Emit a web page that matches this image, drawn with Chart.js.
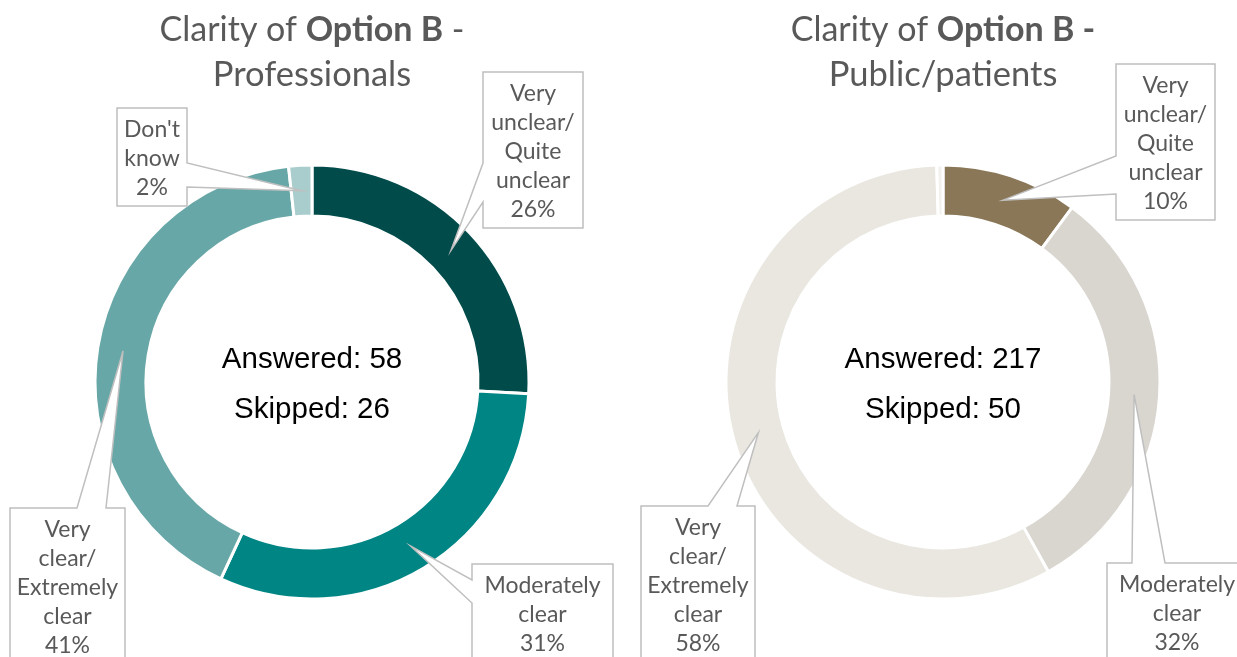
<!DOCTYPE html>
<html>
<head>
<meta charset="utf-8">
<script src="https://cdn.jsdelivr.net/npm/chart.js@4.4.0/dist/chart.umd.min.js"></script>
<style>
  html, body { margin: 0; padding: 0; background: #fff; overflow: hidden; }
  body { width: 1237px; height: 657px; position: relative; }
  canvas { position: absolute; top: 0; }
  #profChart { left: 0; }
  #publicChart { left: 631px; }
</style>
</head>
<body>
<canvas id="profChart" width="624" height="657"></canvas>
<canvas id="publicChart" width="624" height="657"></canvas>
<script>
/* global Chart */

// categories, clockwise from 12 o'clock
const categories = ['Very unclear/Quite unclear', 'Moderately clear', 'Very clear/Extremely clear', "Don't know"]
const categoryLines = [
  ['Very', 'unclear/', 'Quite', 'unclear'],
  ['Moderately', 'clear'],
  ['Very', 'clear/', 'Extremely', 'clear'],
  ["Don't", 'know']
]

// response counts
const profCounts = [15, 18, 24, 1]
const publicCounts = [22, 69, 125, 1]

const profAnswered = 58
const profSkipped = 26
const publicAnswered = 217
const publicSkipped = 50

const profColors = ['#014b4b', '#008585', '#68a7a7', '#a9cccc']
const publicColors = ['#8a7758', '#d9d5cf', '#eae7e1', '#f3f1ed']

const GREY = '#595959'
const LABEL_FONT = '23px Lato'
const LINE_H = 29

// callout boxes: offset of box corner from doughnut centre, width, and where the pointer leaves the box
const profCallouts = [
  { dx: 171, dy: -310, w: 100, side: 'left', b1: 91, b2: 130 },
  { dx: 160, dy: 182, w: 141, side: 'left', b1: 16, b2: 39 },
  { dx: -302, dy: 126, w: 115, side: 'top', b1: 67, b2: 96 },
  { dx: -195, dy: -274, w: 70, side: 'right', b1: 55, b2: 79 }
]
const publicCallouts = [
  { dx: 173, dy: -318, w: 99, side: 'left', b1: 92, b2: 130 },
  { dx: 164, dy: 181, w: 140, side: 'top', b1: 25, b2: 58 },
  { dx: -302, dy: 124, w: 114, side: 'top', b1: 67, b2: 96 },
  null
]

function calloutPath(ctx, x, y, w, h, c, tip) {
  ctx.beginPath()
  if (c.side === 'left') {
    ctx.moveTo(x, y)
    ctx.lineTo(x + w, y)
    ctx.lineTo(x + w, y + h)
    ctx.lineTo(x, y + h)
    ctx.lineTo(x, y + c.b2)
    ctx.lineTo(tip.x, tip.y)
    ctx.lineTo(x, y + c.b1)
  } else if (c.side === 'right') {
    ctx.moveTo(x, y)
    ctx.lineTo(x + w, y)
    ctx.lineTo(x + w, y + c.b1)
    ctx.lineTo(tip.x, tip.y)
    ctx.lineTo(x + w, y + c.b2)
    ctx.lineTo(x + w, y + h)
    ctx.lineTo(x, y + h)
  } else {
    ctx.moveTo(x, y)
    ctx.lineTo(x + c.b1, y)
    ctx.lineTo(tip.x, tip.y)
    ctx.lineTo(x + c.b2, y)
    ctx.lineTo(x + w, y)
    ctx.lineTo(x + w, y + h)
    ctx.lineTo(x, y + h)
  }
  ctx.closePath()
}

const decorPlugin = {
  id: 'decor',
  afterDraw(chart, args, opts) {
    const ctx = chart.ctx
    const meta = chart.getDatasetMeta(0)
    const cx = (chart.chartArea.left + chart.chartArea.right) / 2
    const cy = (chart.chartArea.top + chart.chartArea.bottom) / 2
    const data = chart.data.datasets[0].data
    const total = data.reduce((a, b) => a + b, 0)

    // title with bold run
    ctx.save()
    ctx.fillStyle = GREY
    ctx.textBaseline = 'alphabetic'
    const parts = opts.title1
    let width = 0
    for (const p of parts) {
      ctx.font = (p.bold ? 'bold ' : '') + '34px Lato'
      width += ctx.measureText(p.text).width
    }
    let tx = chart.width / 2 - width / 2
    for (const p of parts) {
      ctx.font = (p.bold ? 'bold ' : '') + '34px Lato'
      ctx.textAlign = 'left'
      ctx.fillText(p.text, tx, 41)
      tx += ctx.measureText(p.text).width
    }
    ctx.font = '34.5px Lato'
    ctx.textAlign = 'center'
    ctx.fillText(opts.title2, chart.width / 2, 86)

    // centre text
    ctx.fillStyle = '#000'
    ctx.font = '29.5px "Liberation Sans", Arial'
    ctx.fillText('Answered: ' + opts.answered, cx, 368)
    ctx.fillText('Skipped: ' + opts.skipped, cx, 418)

    // callouts
    meta.data.forEach((arc, i) => {
      const c = opts.callouts[i]
      if (!c) return
      const tip = arc.tooltipPosition()
      const pct = Math.round(data[i] / total * 100) + '%'
      const lines = categoryLines[i].concat([pct])
      const h = lines.length * LINE_H + 11
      const x = cx + c.dx
      const y = cy + c.dy
      calloutPath(ctx, x, y, c.w, h, c, tip)
      ctx.fillStyle = '#fff'
      ctx.fill()
      ctx.strokeStyle = '#bfbfbf'
      ctx.lineWidth = 1.5
      ctx.stroke()
      ctx.fillStyle = GREY
      ctx.font = LABEL_FONT
      ctx.textAlign = 'center'
      ctx.textBaseline = 'middle'
      lines.forEach((t, k) => {
        ctx.fillText(t, x + c.w / 2, y + 7 + LINE_H / 2 + k * LINE_H)
      })
    })
    ctx.restore()
  }
}

function makeChart(id, counts, colors, decor) {
  return new Chart(document.getElementById(id), {
    type: 'doughnut',
    data: {
      labels: categories,
      datasets: [{
        data: counts,
        backgroundColor: colors,
        borderColor: '#ffffff',
        borderWidth: 3
      }]
    },
    options: {
      responsive: false,
      animation: false,
      radius: 217,
      cutout: '76.5%',
      layout: { padding: { top: 107 } },
      plugins: {
        legend: { display: false },
        tooltip: { enabled: false },
        decor
      }
    },
    plugins: [decorPlugin]
  })
}

makeChart('profChart', profCounts, profColors, {
  title1: [{ text: 'Clarity of ' }, { text: 'Option B', bold: true }, { text: ' -' }],
  title2: 'Professionals',
  answered: profAnswered,
  skipped: profSkipped,
  callouts: profCallouts
})

makeChart('publicChart', publicCounts, publicColors, {
  title1: [{ text: 'Clarity of ' }, { text: 'Option B -', bold: true }],
  title2: 'Public/patients',
  answered: publicAnswered,
  skipped: publicSkipped,
  callouts: publicCallouts
})
</script>
</body>
</html>
